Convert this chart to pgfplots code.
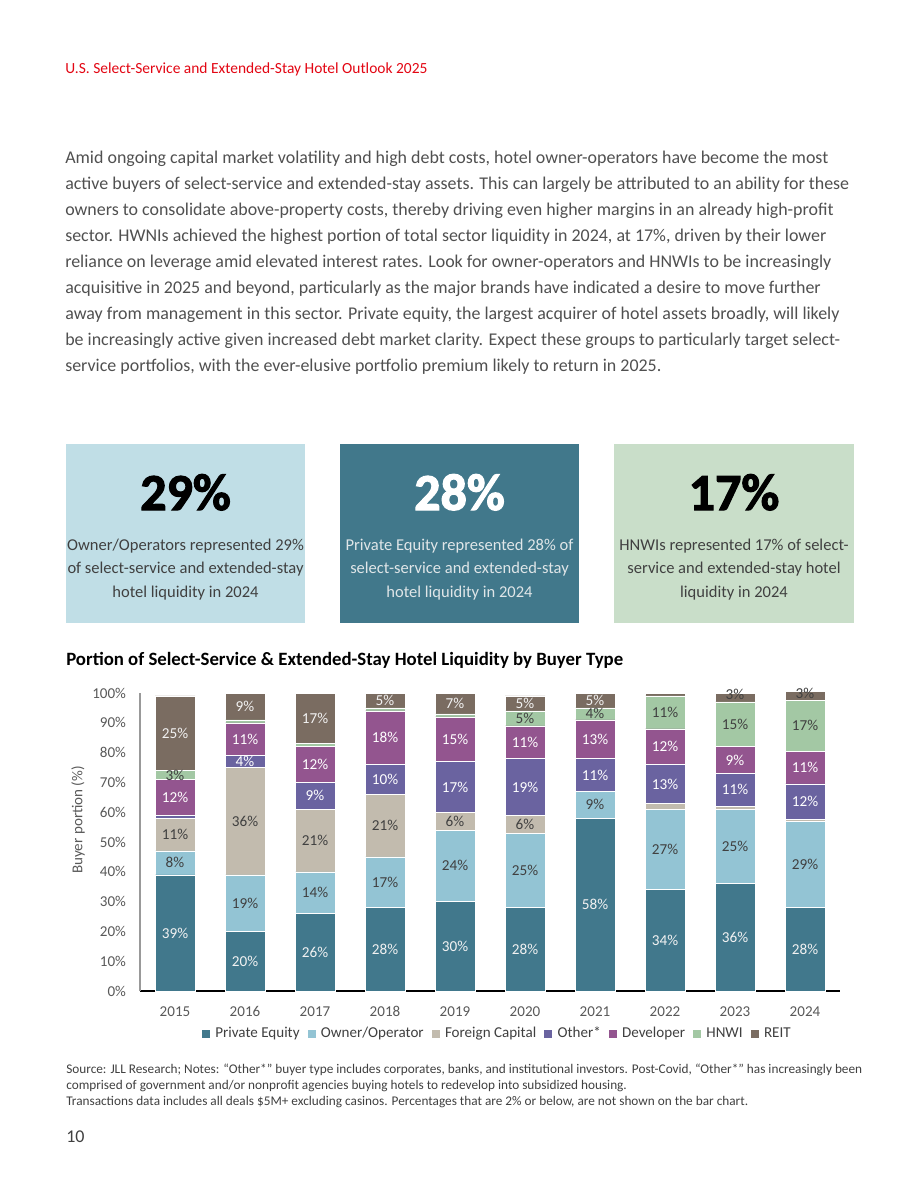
\documentclass[border=0pt]{standalone}
\usepackage{fontspec}
\setmainfont{Carlito}
\newfontfamily\heavyfont[BoldFeatures={FakeBold=2.2}]{Carlito}
\usepackage{pgfplots}
\pgfplotsset{compat=1.18}
\usepackage{pgfplotstable}

\definecolor{jllred}{HTML}{E30613}
\definecolor{bodygray}{HTML}{505050}
\definecolor{tickgray}{HTML}{595959}
\definecolor{darklbl}{HTML}{404040}
\definecolor{lightlbl}{HTML}{F2F2F2}
\definecolor{cpe}{HTML}{41788C}
\definecolor{coo}{HTML}{93C4D4}
\definecolor{cfc}{HTML}{C2BBAE}
\definecolor{coth}{HTML}{6A63A0}
\definecolor{cdev}{HTML}{93558F}
\definecolor{chnwi}{HTML}{A3C8A4}
\definecolor{creit}{HTML}{7A6C61}
\definecolor{boxa}{HTML}{C0DEE6}
\definecolor{boxb}{HTML}{41788B}
\definecolor{boxc}{HTML}{C9DEC9}

% share of select-service & extended-stay liquidity by buyer type (%)
\pgfplotstableread{
year pe oo fc oth dev hnwi reit
2015 39 8 11 1 12 3 25
2016 20 19 36 4 11 1 9
2017 26 14 21 9 12 1 17
2018 28 17 21 10 18 1 5
2019 30 24 6 17 15 1 7
2020 28 25 6 19 11 5 5
2021 58 9 0 11 13 4 5
2022 34 27 2 13 12 11 1
2023 36 25 1 11 9 15 3
2024 28 29 0.5 12 11 17 3
}\liquidity

\newcommand{\bodyfont}{\fontsize{13.45}{15}\selectfont}
\newcommand{\boxfont}{\fontsize{12.4}{14}\selectfont}
\newcommand{\lblfont}{\fontsize{11.4}{13}\selectfont}
\newcommand{\tickfont}{\fontsize{11.3}{13}\selectfont}
\newcommand{\bigfont}{\heavyfont\bfseries\fontsize{39}{44}\selectfont}

\pgfplotsset{
  chartbox/.style={
    at={(105pt,-743.25pt)}, anchor=south west,
    scale only axis, width=525pt, height=223.5pt,
    xmin=2014.5, xmax=2024.5, ymin=0, ymax=100, clip=false,
  },
  seg/.style={fill=#1, draw=white, line width=0.4pt},
  % value labels: shares of 2% or less are left unlabelled
  lbl/.style={draw=none, mark=none,
    nodes near coords={\pgfmathprintnumber[assume math mode=true]{\pgfplotspointmeta}\%},
    every node near coord/.append style={text=#1, font=\lblfont, anchor=center, inner sep=0pt}},
}

\begin{document}
\begin{tikzpicture}
\path[fill=white,use as bounding box] (0pt,0pt) rectangle (690pt,-893.25pt);

\begin{scope}[x=0.75pt,y=-0.75pt]
% running header
\node[anchor=base west,inner sep=0,text=jllred,font=\fontsize{11.6}{13}\selectfont] at (65,73.5)
  {U.S. Select-Service and Extended-Stay Hotel Outlook 2025};

% body paragraph
\begin{scope}[every node/.style={anchor=base west,inner sep=0,text=bodygray,font=\bodyfont}]
\node at (65,163.5) {Amid ongoing capital market volatility and high debt costs, hotel owner-operators have become the most};
\node at (65,189.5) {active buyers of select-service and extended-stay assets. This can largely be attributed to an ability for these};
\node at (65,215.5) {owners to consolidate above-property costs, thereby driving even higher margins in an already high-profit};
\node at (65,241.5) {sector. HWNIs achieved the highest portion of total sector liquidity in 2024, at 17\%, driven by their lower};
\node at (65,267.5) {reliance on leverage amid elevated interest rates. Look for owner-operators and HNWIs to be increasingly};
\node at (65,293.5) {acquisitive in 2025 and beyond, particularly as the major brands have indicated a desire to move further};
\node at (65,319.5) {away from management in this sector. Private equity, the largest acquirer of hotel assets broadly, will likely};
\node at (65,345.5) {be increasingly active given increased debt market clarity. Expect these groups to particularly target select-};
\node at (65,371.5) {service portfolios, with the ever-elusive portfolio premium likely to return in 2025.};
\end{scope}

% key figure boxes
\fill[boxa] (66,444) rectangle (305,623);
\fill[boxb] (340,444) rectangle (579,623);
\fill[boxc] (614,444) rectangle (854,623);
\begin{scope}[every node/.style={anchor=base,inner sep=0,font=\boxfont}]
\node[text=black,font=\bigfont] at (185.5,510) {29\%};
\node[text=darklbl] at (185.5,550) {Owner/Operators represented 29\%};
\node[text=darklbl] at (185.5,573.5) {of select-service and extended-stay};
\node[text=darklbl] at (185.5,597) {hotel liquidity in 2024};
\node[text=white,font=\bigfont] at (459.5,510) {28\%};
\node[text=lightlbl!90!boxb] at (459.5,550) {Private Equity represented 28\% of};
\node[text=lightlbl!90!boxb] at (459.5,573.5) {select-service and extended-stay};
\node[text=lightlbl!90!boxb] at (459.5,597) {hotel liquidity in 2024};
\node[text=black,font=\bigfont] at (734,510) {17\%};
\node[text=darklbl] at (734,550) {HNWIs represented 17\% of select-};
\node[text=darklbl] at (734,573.5) {service and extended-stay hotel};
\node[text=darklbl] at (734,597) {liquidity in 2024};
\end{scope}

% chart title
\node[anchor=base west,inner sep=0,text=black,font=\bfseries\fontsize{14.1}{16}\selectfont] at (66,665)
  {Portion of Select-Service \& Extended-Stay Hotel Liquidity by Buyer Type};

% notes
\begin{scope}[every node/.style={anchor=base west,inner sep=0,text=darklbl,font=\fontsize{9.95}{11}\selectfont}]
\node at (66,1073) {Source: JLL Research; Notes: “Other*” buyer type includes corporates, banks, and institutional investors. Post-Covid, “Other*” has increasingly been};
\node at (66,1089) {comprised of government and/or nonprofit agencies buying hotels to redevelop into subsidized housing.};
\node at (66,1105) {Transactions data includes all deals \$5M+ excluding casinos. Percentages that are 2\% or below, are not shown on the bar chart.};
\end{scope}
\node[anchor=base west,inner sep=0,text=darklbl,font=\fontsize{13.5}{15}\selectfont] at (66,1142) {10};
\end{scope}

% stacked bars
\begin{axis}[
  chartbox,
  ybar stacked, bar width=30pt,
  xtick={2015,2016,2017,2018,2019,2020,2021,2022,2023,2024},
  xticklabels={2015,2016,2017,2018,2019,2020,2021,2022,2023,2024},
  ytick={0,10,20,30,40,50,60,70,80,90,100},
  yticklabels={0\%,10\%,20\%,30\%,40\%,50\%,60\%,70\%,80\%,90\%,100\%},
  major tick length=0pt,
  axis x line*=bottom, axis y line*=left,
  x axis line style={-,black,line width=0.8pt},
  y axis line style={-,black!40,line width=1.2pt},
  tick label style={font=\tickfont, text=tickgray},
  yticklabel style={xshift=-7pt},
  xticklabel style={yshift=-8pt},
  ylabel={Buyer portion (\%)},
  ylabel style={at={(axis description cs:-0.0886,0.574)}, anchor=center,
    font=\tickfont, text=tickgray},
  legend columns=7,
  legend style={draw=none, fill=none, at={(0.511,-0.1445)}, anchor=center,
    font=\tickfont, text=darklbl, inner sep=0pt,
    nodes={text height=1.55ex, text depth=0.45ex},
    /tikz/every odd column/.append style={column sep=2pt},
    /tikz/every even column/.append style={column sep=4pt}},
  legend image code/.code={\fill[#1,draw=none] (0pt,-3pt) rectangle (6pt,3pt);},
]
\addplot[seg=cpe] table[x=year,y=pe] {\liquidity};
\addplot[seg=coo] table[x=year,y=oo] {\liquidity};
\addplot[seg=cfc] table[x=year,y=fc] {\liquidity};
\addplot[seg=coth] table[x=year,y=oth] {\liquidity};
\addplot[seg=cdev] table[x=year,y=dev] {\liquidity};
\addplot[seg=chnwi] table[x=year,y=hnwi] {\liquidity};
\addplot[seg=creit] table[x=year,y=reit] {\liquidity};
\legend{Private Equity,Owner/Operator,Foreign Capital,Other*,Developer,HNWI,REIT}
\end{axis}

% value labels, centred in each segment
\begin{axis}[chartbox, axis lines=none, xtick=\empty, ytick=\empty]
\addplot[lbl=lightlbl, point meta=\thisrow{pe}] table[x=year,
  y expr={\thisrow{pe}>2 ? \thisrow{pe}/2 : nan}] {\liquidity};
\addplot[lbl=darklbl, point meta=\thisrow{oo}] table[x=year,
  y expr={\thisrow{oo}>2 ? \thisrow{pe}+\thisrow{oo}/2 : nan}] {\liquidity};
\addplot[lbl=darklbl, point meta=\thisrow{fc}] table[x=year,
  y expr={\thisrow{fc}>2 ? \thisrow{pe}+\thisrow{oo}+\thisrow{fc}/2 : nan}] {\liquidity};
\addplot[lbl=white, point meta=\thisrow{oth}] table[x=year,
  y expr={\thisrow{oth}>2 ? \thisrow{pe}+\thisrow{oo}+\thisrow{fc}+\thisrow{oth}/2 : nan}] {\liquidity};
\addplot[lbl=white, point meta=\thisrow{dev}] table[x=year,
  y expr={\thisrow{dev}>2 ? \thisrow{pe}+\thisrow{oo}+\thisrow{fc}+\thisrow{oth}+\thisrow{dev}/2 : nan}] {\liquidity};
\addplot[lbl=darklbl, point meta=\thisrow{hnwi}] table[x=year,
  y expr={\thisrow{hnwi}>2 ? \thisrow{pe}+\thisrow{oo}+\thisrow{fc}+\thisrow{oth}+\thisrow{dev}+\thisrow{hnwi}/2 : nan}] {\liquidity};
% REIT: large shares inside the bar, small ones sit on its top edge
\addplot[lbl=lightlbl, point meta=\thisrow{reit}] table[x=year,
  y expr={\thisrow{reit}>=4 ? \thisrow{pe}+\thisrow{oo}+\thisrow{fc}+\thisrow{oth}+\thisrow{dev}+\thisrow{hnwi}+\thisrow{reit}/2 : nan}] {\liquidity};
\addplot[lbl=darklbl, point meta=\thisrow{reit}] table[x=year,
  y expr={(\thisrow{reit}>2 && \thisrow{reit}<4) ? \thisrow{pe}+\thisrow{oo}+\thisrow{fc}+\thisrow{oth}+\thisrow{dev}+\thisrow{hnwi}+\thisrow{reit}-0.5 : nan}] {\liquidity};
\end{axis}
\end{tikzpicture}
\end{document}
